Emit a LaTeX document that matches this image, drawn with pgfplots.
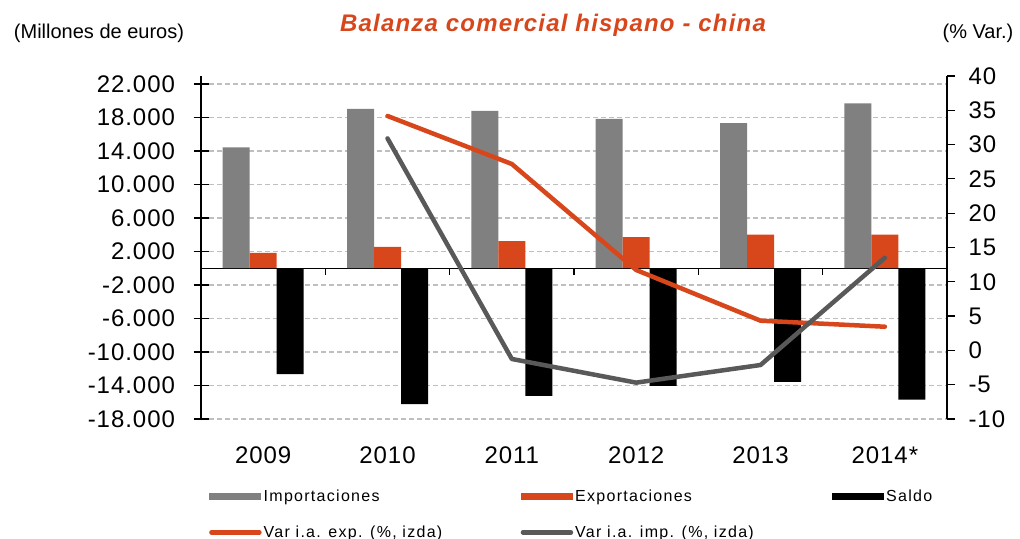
\documentclass[border=0pt]{standalone}
\usepackage{pgfplots}
\pgfplotsset{compat=1.18}
\usepackage{fontspec}
\setmainfont{Liberation Sans}
\newfontfamily\tickfont{Liberation Sans}[LetterSpace=4]
\newfontfamily\legfont{Liberation Sans}[LetterSpace=8]
\newfontfamily\titlefont{Liberation Sans}[LetterSpace=5]
\definecolor{orng}{RGB}{216,70,27}
\definecolor{barg}{RGB}{128,128,128}
\definecolor{lineg}{RGB}{89,89,89}
\definecolor{gridg}{RGB}{191,191,191}
\begin{document}
\begin{tikzpicture}[x=1bp,y=1bp]
\path[use as bounding box] (0,0) rectangle (1020,539);
\node[font=\fontsize{20bp}{24bp}\selectfont] at (99,506) {(Millones de euros)};
\node[font=\fontsize{20bp}{24bp}\selectfont] at (978,506) {(\% Var.)};
\node[font=\titlefont\fontsize{24bp}{28bp}\selectfont\bfseries\itshape, text=orng] at (553,514) {Balanza comercial hispano - china};
\begin{axis}[
  at={(201bp,120bp)}, anchor=south west,
  scale only axis, width=746bp, height=343bp,
  xmin=-0.5, xmax=5.5, ymin=-18000, ymax=22955,
  scaled y ticks=false,
  axis x line*=bottom, axis y line*=left,
  x axis line style={draw=none},
  y axis line style={black, line width=1.2bp},
  xtick={0,1,2,3,4,5},
  xticklabels={2009,2010,2011,2012,2013,2014*},
  xtick style={draw=none},
  xticklabel style={yshift=-17bp},
  ytick={-18000,-14000,-10000,-6000,-2000,2000,6000,10000,14000,18000,22000},
  yticklabels={-18.000,-14.000,-10.000,-6.000,-2.000,2.000,6.000,10.000,14.000,18.000,22.000},
  yticklabel style={xshift=-15bp},
  ytick style={black, line width=1.2bp},
  major tick length=15bp, tick align=center,
  tick label style={font=\tickfont\fontsize{24bp}{28bp}\selectfont},
  ymajorgrids,
  major grid style={gridg, line width=1.2bp, dash pattern=on 5bp off 3bp},
  extra y ticks={0}, extra y tick labels={},
  extra y tick style={major tick length=0pt, grid=major, major grid style={black, solid, line width=1.3bp}},
  legend columns=3,
  legend style={draw=none, fill=none, at={(0.0067,-0.194)}, anchor=north west,
    font=\legfont\fontsize{16bp}{19bp}\selectfont, row sep=19bp,
    nodes={inner sep=2bp}},
  legend cell align=left,
]
\addplot[ybar, bar width=27bp, bar shift=-27bp, fill=barg, draw=none,
  legend image code/.code={\fill[barg] (0bp,-3.5bp) rectangle (52bp,3.5bp);}]
  coordinates {(0,14440) (1,19030) (2,18800) (3,17820) (4,17340) (5,19700)};
\addlegendentry{\makebox[255bp][l]{Importaciones}}
\addplot[ybar, bar width=27bp, bar shift=0bp, fill=orng, draw=none,
  legend image code/.code={\fill[orng] (0bp,-3.5bp) rectangle (52bp,3.5bp);}]
  coordinates {(0,1820) (1,2540) (2,3250) (3,3730) (4,4000) (5,4020)};
\addlegendentry{\makebox[255bp][l]{Exportaciones}}
\addplot[ybar, bar width=27bp, bar shift=27bp, fill=black, draw=none,
  legend image code/.code={\fill[black] (0bp,-3.5bp) rectangle (52bp,3.5bp);}]
  coordinates {(0,-12630) (1,-16210) (2,-15250) (3,-14060) (4,-13580) (5,-15700)};
\addlegendentry{Saldo}
\addlegendimage{legend image code/.code={\draw[orng, line width=4.5bp, line cap=round] (2bp,0bp) -- (50bp,0bp);}}
\addlegendentry{Var i.a. exp. (\%, izda)}
\addlegendimage{legend image code/.code={\draw[lineg, line width=4.5bp, line cap=round] (2bp,0bp) -- (50bp,0bp);}}
\addlegendentry{Var i.a. imp. (\%, izda)}
\pgfplotsinvokeforeach{0.5,1.5,2.5,3.5,4.5}{\draw[black, line width=1.2bp] (axis cs:#1,0) -- ([yshift=-7bp]axis cs:#1,0);}
\end{axis}
\begin{axis}[
  at={(201bp,120bp)}, anchor=south west,
  scale only axis, width=746bp, height=343bp,
  xmin=-0.5, xmax=5.5, ymin=-10, ymax=40,
  axis x line=none, axis y line*=right,
  y axis line style={black, line width=1.2bp},
  ytick={-10,-5,0,5,10,15,20,25,30,35,40},
  yticklabels={-10,-5,0,5,10,15,20,25,30,35,40},
  yticklabel style={xshift=10bp},
  ytick style={black, line width=1.2bp},
  major tick length=8bp, tick align=outside,
  tick label style={font=\tickfont\fontsize{24bp}{28bp}\selectfont},
]
\addplot[orng, line width=4.5bp, line cap=round, line join=round]
  coordinates {(1,34.17) (2,27.17) (3,11.72) (4,4.33) (5,3.45)};
\addplot[lineg, line width=4.5bp, line cap=round, line join=round]
  coordinates {(1,30.9) (2,-1.25) (3,-4.7) (4,-2.13) (5,13.5)};
\end{axis}
\end{tikzpicture}
\end{document}
